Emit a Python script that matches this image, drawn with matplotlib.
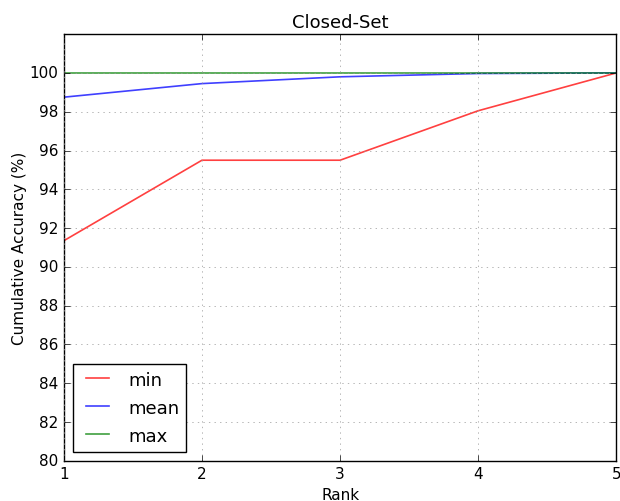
import numpy as np
import matplotlib.pyplot as plt

plt.style.use("classic")
plt.rcParams["figure.facecolor"] = "white"

ranks = [1, 2, 3, 4, 5]
acc_min = [91.35, 95.5, 95.5, 98.05, 100.0]
acc_mean = [98.75, 99.45, 99.8, 99.97, 100.0]
acc_max = [100.0, 100.0, 100.0, 100.0, 100.0]

fig, ax = plt.subplots(1, figsize=(6.2, 5.02), dpi=100)
ax.plot(ranks, acc_min, color="r", alpha=0.75, lw=1.2, label="min")
ax.plot(ranks, acc_mean, color="b", alpha=0.75, lw=1.2, label="mean")
ax.plot(ranks, acc_max, color="g", alpha=0.75, lw=1.2, label="max")
ax.set_xlim(1, 5)
ax.set_ylim(80, 102)
ax.set_xticks(ranks)
ax.set_yticks(np.arange(80, 101, 2))
ax.set_title("Closed-Set", fontsize=13)
ax.set_xlabel("Rank", fontsize=11, labelpad=4)
ax.set_ylabel("Cumulative Accuracy (%)", fontsize=11, labelpad=2)
ax.tick_params(labelsize=11)
ax.grid(True, color="0.6")
ax.legend(loc="lower left", fontsize=13, handlelength=1.9, handletextpad=0.75,
          borderaxespad=0.5, labelspacing=0.55)
fig.subplots_adjust(left=0.103, right=0.994, top=0.93, bottom=0.08)
fig.savefig("out.png", dpi=100)
